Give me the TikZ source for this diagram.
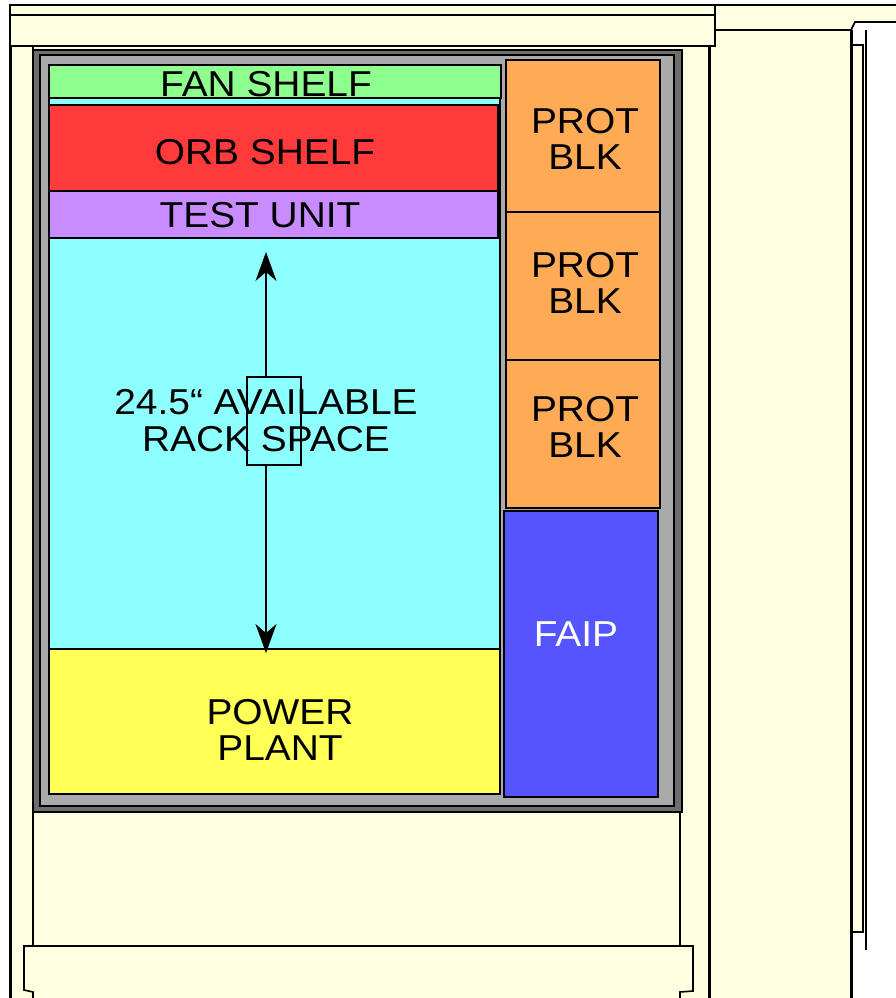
\documentclass[tikz,border=0pt]{standalone}
\usepackage{fontspec}
\setmainfont{Liberation Sans}[FakeStretch=1.08]
\usetikzlibrary{arrows.meta}
\definecolor{cream}{HTML}{FFFFE2}
\definecolor{frameD}{HTML}{6E6E6E}
\definecolor{frameL}{HTML}{AAAAAA}
\definecolor{rackc}{HTML}{8DFFFF}
\definecolor{fanc}{HTML}{8EFF8E}
\definecolor{orbc}{HTML}{FF3A3A}
\definecolor{testc}{HTML}{C88CFF}
\definecolor{powc}{HTML}{FFFF55}
\definecolor{protc}{HTML}{FFAA55}
\definecolor{faipc}{HTML}{5555FF}

\begin{document}
\begin{tikzpicture}[x=1pt, y=-1pt,
  font=\fontsize{36}{36.5}\selectfont,
  wall/.style={draw=black, line width=1.6pt, fill=cream},
  edge/.style={draw=black, line width=3pt},
  box/.style={draw=black, line width=1.5pt},
  lbl/.style={inner sep=0pt, align=center},
  arr/.style={-{Stealth[length=29pt, width=21pt, inset=9pt]}, line width=1.3pt}
]
  \useasboundingbox[fill=white] (0,0) rectangle (896,998);

  % right-hand cabinet
  \fill[cream] (709,30) rectangle (851,998);
  \draw[wall] (851,45) -- (863,45) -- (863,932) -- (851,932);
  \draw[box] (866,30) -- (866,950);
  \draw[edge] (851,30) -- (851,998);
  \path[wall] (896,5) -- (715,5) -- (715,30) -- (851,30) -- (855,22) -- (896,22);

  % left-hand cabinet
  \fill[cream] (10,46) rectangle (709,998);
  \draw[wall] (10,5) rectangle (715,46);
  \draw[box] (10,15) -- (715,15);
  \draw[edge] (10,46) -- (10,998);
  \draw[edge] (709,47) -- (709,998);
  \draw[box] (33,46) -- (33,946);
  \draw[box] (680,812) -- (680,946);
  \draw[wall] (33,998) -- (33,992) -- (24,990) -- (24,946) -- (693,946)
    -- (693,991) -- (680,992) -- (680,998);

  % rack frame
  \draw[box, fill=frameD] (33,50) rectangle (682,812);
  \draw[box, fill=frameL] (40,55) rectangle (674,806);

  % shelves
  \draw[box, fill=rackc] (49,98) rectangle (500,649);
  \draw[box, fill=fanc] (49,65) rectangle (501,98);
  \draw[box, fill=orbc] (49,105) rectangle (498,191);
  \draw[box, fill=testc] (49,191) rectangle (498,238);
  \draw[box, fill=powc] (49,649) rectangle (500,794);
  \foreach \t/\b in {60/212, 212/360, 360/508}
    \draw[box, fill=protc] (506,\t) rectangle (660,\b);
  \draw[box, fill=faipc] (504,511) rectangle (658,797);

  % labels
  \node[lbl] (fan) at (266,84.5) {FAN SHELF};
  \node[lbl] (orb) at (265,152.5) {ORB SHELF};
  \node[lbl] (test) at (260,215.5) {TEST UNIT};
  \node[lbl] (prot1) at (585,139) {PROT\\BLK};
  \node[lbl] (prot2) at (585,283) {PROT\\BLK};
  \node[lbl] (prot3) at (585,427) {PROT\\BLK};
  \node[lbl, text=white] (faip) at (576,634) {FAIP};
  \node[lbl] (power) at (280,730) {POWER\\PLANT};
  \node[lbl] (avail) at (266,420.5) {24.5“ AVAILABLE\\RACK SPACE};

  % height marker
  \node[box, inner sep=0pt, minimum width=54pt, minimum height=88pt] (gap) at (274,421) {};
  \coordinate (atop) at (266,252);
  \coordinate (abot) at (266,653);
  \draw[arr] (atop |- gap.north) -- (atop);
  \draw[arr] (abot |- gap.south) -- (abot);
\end{tikzpicture}
\end{document}
